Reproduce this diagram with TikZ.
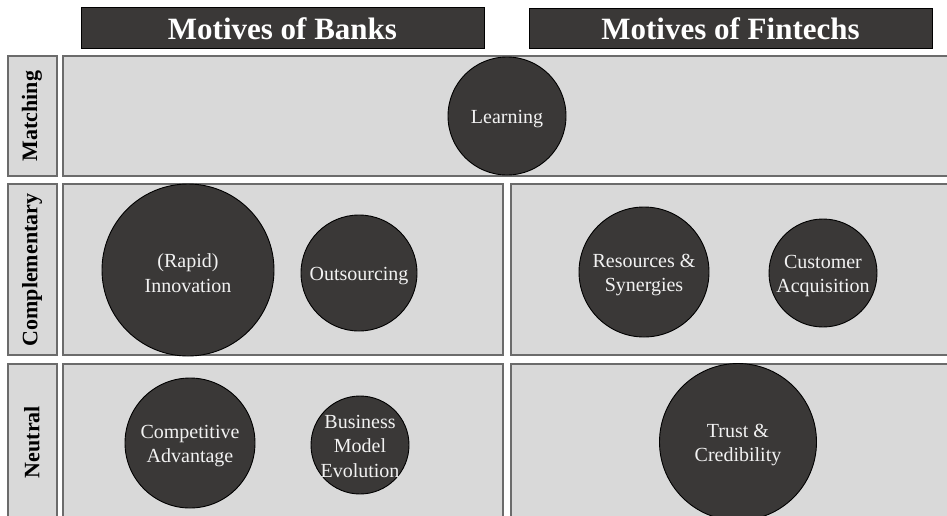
\documentclass[tikz,border=0pt]{standalone}
\usepackage{fontspec}
\setmainfont{Liberation Serif}
\definecolor{cellfill}{HTML}{D9D9D9}
\definecolor{cellline}{HTML}{6B6B6B}
\definecolor{darkfill}{HTML}{3A3837}
\definecolor{lighttext}{HTML}{F2F2F2}
\begin{document}
\begin{tikzpicture}[x=1pt,y=-1pt,
  cell/.style={fill=cellfill,draw=cellline,line width=1.4pt},
  header/.style={fill=darkfill,draw=black,line width=0.8pt},
  headtext/.style={text=white,font=\fontsize{31}{36}\selectfont\bfseries},
  rowlabel/.style={rotate=90,font=\fontsize{22}{26}\selectfont\bfseries,text=black},
  bub/.style={circle,fill=darkfill,draw=black,line width=0.9pt,inner sep=0pt},
  bubtext/.style={text=lighttext,align=center,font=\fontsize{20}{24.5}\selectfont,inner sep=0pt,yshift=-3pt}]
\useasboundingbox (0,0) rectangle (947,515);
\clip (0,0) rectangle (947,515);
% headers
\draw[header] (81,7) rectangle (484,48);
\node[headtext] (hb) at (282.5,28.5) {Motives of Banks};
\draw[header] (529,8) rectangle (932,48);
\node[headtext] (hf) at (730.5,29) {Motives of Fintechs};
% row label boxes
\draw[cell] (8,56) rectangle (57,176);
\draw[cell] (8,184) rectangle (57,355);
\draw[cell] (8,364) rectangle (57,530);
\node[rowlabel] (lm) at (32,116) {Matching};
\node[rowlabel] (lc) at (32,270) {Complementary};
\node[rowlabel] (ln) at (32,442) {Neutral};
% cells
\draw[cell] (63,56) rectangle (960,176);
\draw[cell] (63,184) rectangle (503,355);
\draw[cell] (511,184) rectangle (960,355);
\draw[cell] (63,364) rectangle (503,530);
\draw[cell] (511,364) rectangle (960,530);
% bubbles
\node[bub,minimum size=118pt] (learn) at (507,116) {};
\node[bubtext] at (learn) {Learning};
\node[bub,minimum size=172pt] (innov) at (188,270) {};
\node[bubtext] at (innov) {(Rapid)\\Innovation};
\node[bub,minimum size=116pt] (outs) at (359,273) {};
\node[bubtext] at (outs) {Outsourcing};
\node[bub,minimum size=130pt] (res) at (644,272) {};
\node[bubtext] at (res) {Resources \&\\Synergies};
\node[bub,minimum size=108pt] (cust) at (823,273) {};
\node[bubtext] at (cust) {Customer\\Acquisition};
\node[bub,minimum size=130pt] (comp) at (190,443) {};
\node[bubtext] at (comp) {Competitive\\Advantage};
\node[bub,minimum size=98pt] (bme) at (360,445) {};
\node[bubtext,yshift=2pt] at (bme) {Business\\Model\\Evolution};
\node[bub,minimum size=157pt] (trust) at (738,442) {};
\node[bubtext] at (trust) {Trust \&\\Credibility};
\end{tikzpicture}
\end{document}
